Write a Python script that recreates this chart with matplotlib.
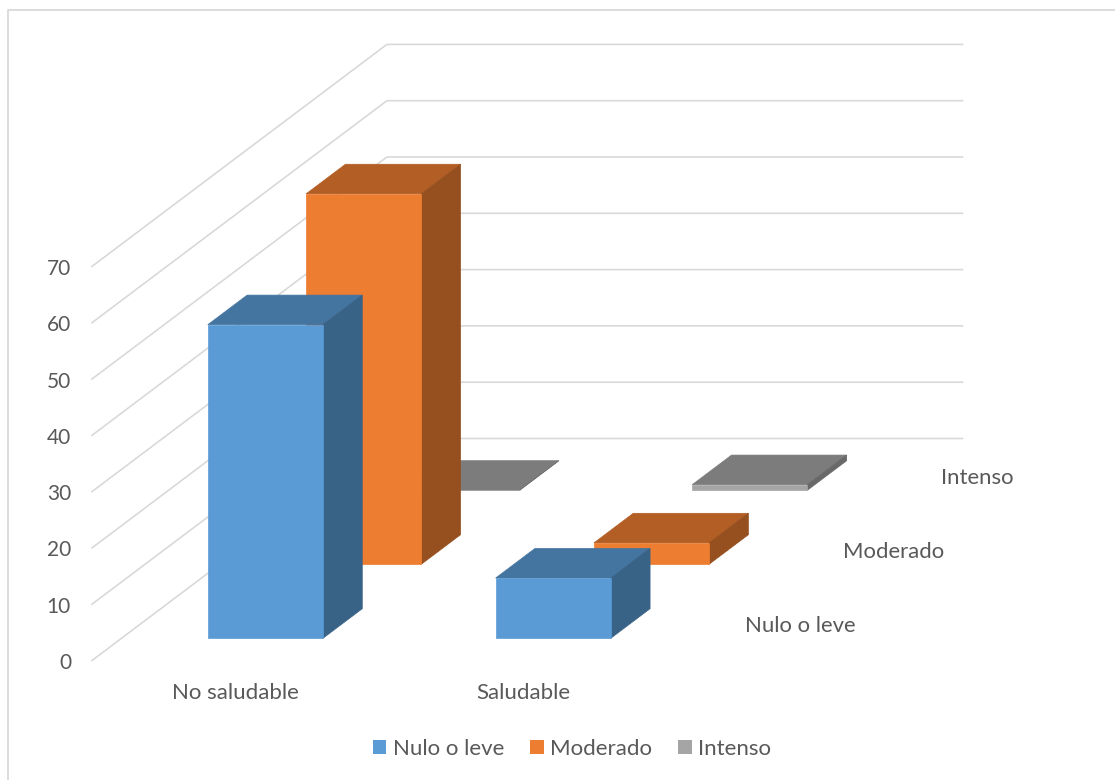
import matplotlib
matplotlib.use("Agg")
import matplotlib.pyplot as plt
from matplotlib.patches import Polygon, Patch
from matplotlib.lines import Line2D

categories = ["No saludable", "Saludable"]
series_names = ["Nulo o leve", "Moderado", "Intenso"]
nulo_o_leve = [55.7, 10.7]
moderado = [65.8, 3.8]
intenso = [0, 1]
value_ticks = [0, 10, 20, 30, 40, 50, 60, 70]

series_values = [nulo_o_leve, moderado, intenso]
front_colors = ["#5B9BD5", "#ED7D31", "#A5A5A5"]
top_colors = ["#4474A0", "#B25E25", "#7C7C7C"]
side_colors = ["#396287", "#964F1F", "#686868"]
TEXT = "#595959"
GRID = "#D9D9D9"

# oblique projection, in pixels
OX, OY = 92.0, 660.5          # front-left floor corner
CAT_W = 287.8                 # width of one category
DEPTH_X, DEPTH_Y = 98.3, -74.0  # one series step in depth
PER_UNIT = 5.63               # pixels per value unit
BAR_W, BAR_D = 0.4, 0.4
GAP_W, GAP_D = 0.3, 0.3


def project(c, d, v):
    return (OX + c * CAT_W + d * DEPTH_X, OY + d * DEPTH_Y - v * PER_UNIT)


plt.rcParams["font.family"] = ["Lato", "DejaVu Sans"]
fig = plt.figure(figsize=(11.15, 7.80), dpi=100)
ax = fig.add_axes([0, 0, 1, 1])
ax.set_xlim(0, 1115)
ax.set_ylim(780, 0)
ax.axis("off")

# chart border
ax.add_line(Line2D([8, 8, 1115], [780, 10, 10], color="#D9D9D9", lw=1.3, zorder=1))

# walls
n_cat, n_ser = len(categories), len(series_names)
for t in value_ticks:
    pts = [project(0, 0, t), project(0, n_ser, t), project(n_cat, n_ser, t)]
    ax.add_line(Line2D(*zip(*pts), color=GRID, lw=1.2, zorder=2))
    x, y = project(0, 0, t)
    ax.text(x - 21, y + 2.5, str(t), color=TEXT, fontsize=15, ha="right", va="center")

# bars, back to front
z = 3
for s in reversed(range(n_ser)):
    for c in range(n_cat):
        v = series_values[s][c]
        c0, c1 = c + GAP_W, c + GAP_W + BAR_W
        d0, d1 = s + GAP_D, s + GAP_D + BAR_D
        faces = [
            (top_colors[s], [(c0, d0, v), (c1, d0, v), (c1, d1, v), (c0, d1, v)]),
            (side_colors[s], [(c1, d0, 0), (c1, d1, 0), (c1, d1, v), (c1, d0, v)]),
            (front_colors[s], [(c0, d0, 0), (c1, d0, 0), (c1, d0, v), (c0, d0, v)]),
        ]
        for col, quad in faces:
            ax.add_patch(Polygon([project(*p) for p in quad], closed=True,
                                 facecolor=col, edgecolor=col, lw=0.5, zorder=z))
    z += 1

# category labels
for c, name in enumerate(categories):
    x, y = project(c + 0.5, 0, 0)
    ax.text(x, y + 32.5, name, color=TEXT, fontsize=16, ha="center", va="center")

# series labels
for s, name in enumerate(series_names):
    x, y = project(n_cat, s + 0.5, 0)
    ax.text(x + 28, y + 2.2, name, color=TEXT, fontsize=15.9, ha="left", va="center")

handles = [Patch(facecolor=col, edgecolor="none") for col in front_colors]
ax.legend(handles, series_names, loc="center", bbox_to_anchor=(572 / 1115, 1 - 749 / 780),
          ncol=3, frameon=False, fontsize=16, labelcolor=TEXT, handlelength=0.62,
          handleheight=0.62, handletextpad=0.3, columnspacing=1.15, borderpad=0)

fig.savefig("out.png", dpi=100)
